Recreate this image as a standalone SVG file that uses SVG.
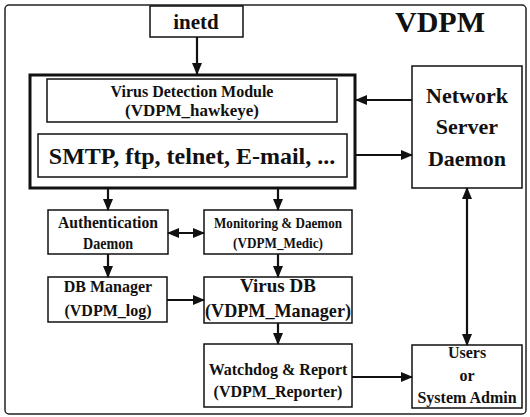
<svg xmlns="http://www.w3.org/2000/svg" width="530" height="417" viewBox="0 0 530 417">
<style>
.box{fill:#fff;stroke:#111;stroke-width:1.5}
.thick{fill:#fff;stroke:#111;stroke-width:3}
text{font-family:"Liberation Serif","Times New Roman",serif;font-weight:bold;fill:#111;text-anchor:middle}
.c line{stroke:#111;stroke-width:2.2}
</style>
<defs>
<marker id="ah" markerUnits="userSpaceOnUse" markerWidth="12" markerHeight="10" refX="11" refY="5" orient="auto-start-reverse">
<path d="M0,0 L12,5 L0,10 Z" fill="#111"/>
</marker>
</defs>
<rect x="0" y="0" width="530" height="417" fill="#fff"/>
<rect x="5" y="5" width="521" height="409" rx="4" fill="none" stroke="#222" stroke-width="1.5"/>
<text x="440" y="32" font-size="30">VDPM</text>

<g id="inetd"><rect class="box" x="150" y="6" width="93" height="31"/><text x="196" y="29" font-size="21">inetd</text></g>

<g id="module">
<rect class="thick" x="30" y="75" width="325" height="113"/>
<g id="vdm"><rect class="box" x="47" y="79" width="290" height="43"/>
<text x="192" y="97" font-size="16">Virus Detection Module</text>
<text x="192" y="116" font-size="16" textLength="134" lengthAdjust="spacingAndGlyphs">(VDPM_hawkeye)</text></g>
<g id="protocols"><rect class="box" x="38" y="134" width="309" height="43"/>
<text x="192" y="164" font-size="24">SMTP, ftp, telnet, E-mail, ...</text></g>
</g>

<g id="nsd"><rect class="box" x="412" y="66" width="110" height="122"/>
<text x="467" y="103" font-size="22">Network</text>
<text x="467" y="134" font-size="22">Server</text>
<text x="467" y="166" font-size="22">Daemon</text></g>

<g id="auth"><rect class="box" x="48" y="210" width="120" height="44"/>
<text x="108" y="228" font-size="16" textLength="100" lengthAdjust="spacingAndGlyphs">Authentication</text>
<text x="108" y="249" font-size="16" textLength="50" lengthAdjust="spacingAndGlyphs">Daemon</text></g>

<g id="medic"><rect class="box" x="204" y="210" width="148" height="44"/>
<text x="278" y="228" font-size="14.5" textLength="128" lengthAdjust="spacingAndGlyphs">Monitoring &amp; Daemon</text>
<text x="278" y="248" font-size="14.5" textLength="90" lengthAdjust="spacingAndGlyphs">(VDPM_Medic)</text></g>

<g id="dbm"><rect class="box" x="48" y="277" width="119" height="45"/>
<text x="108" y="292" font-size="16">DB Manager</text>
<text x="108" y="316" font-size="16">(VDPM_log)</text></g>

<g id="vdb"><rect class="box" x="204" y="277" width="148" height="46"/>
<text x="278" y="292" font-size="19">Virus DB</text>
<text x="278" y="317" font-size="19" textLength="146" lengthAdjust="spacingAndGlyphs">(VDPM_Manager)</text></g>

<g id="watchdog"><rect class="box" x="204" y="344" width="148" height="63"/>
<text x="278" y="375" font-size="16">Watchdog &amp; Report</text>
<text x="278" y="397" font-size="16">(VDPM_Reporter)</text></g>

<g id="users"><rect class="box" x="412" y="345" width="110" height="63"/>
<text x="467" y="358" font-size="16">Users</text>
<text x="467" y="381" font-size="16">or</text>
<text x="467" y="403" font-size="16">System Admin</text></g>

<g id="connectors" class="c">
<line x1="197" y1="37" x2="197" y2="74" marker-end="url(#ah)"/>
<line x1="412" y1="100" x2="356" y2="100" marker-end="url(#ah)"/>
<line x1="356" y1="155" x2="412" y2="155" marker-end="url(#ah)"/>
<line x1="108" y1="189" x2="108" y2="210" marker-end="url(#ah)"/>
<line x1="278" y1="189" x2="278" y2="210" marker-end="url(#ah)"/>
<line x1="168" y1="233" x2="204" y2="233" marker-start="url(#ah)" marker-end="url(#ah)"/>
<line x1="108" y1="254" x2="108" y2="277" marker-end="url(#ah)"/>
<line x1="278" y1="254" x2="278" y2="277" marker-end="url(#ah)"/>
<line x1="167" y1="300" x2="204" y2="300" marker-end="url(#ah)"/>
<line x1="278" y1="323" x2="278" y2="344" marker-end="url(#ah)"/>
<line x1="352" y1="377" x2="412" y2="377" marker-end="url(#ah)"/>
<line x1="467" y1="188" x2="467" y2="345" marker-start="url(#ah)" marker-end="url(#ah)"/>
</g>
</svg>
